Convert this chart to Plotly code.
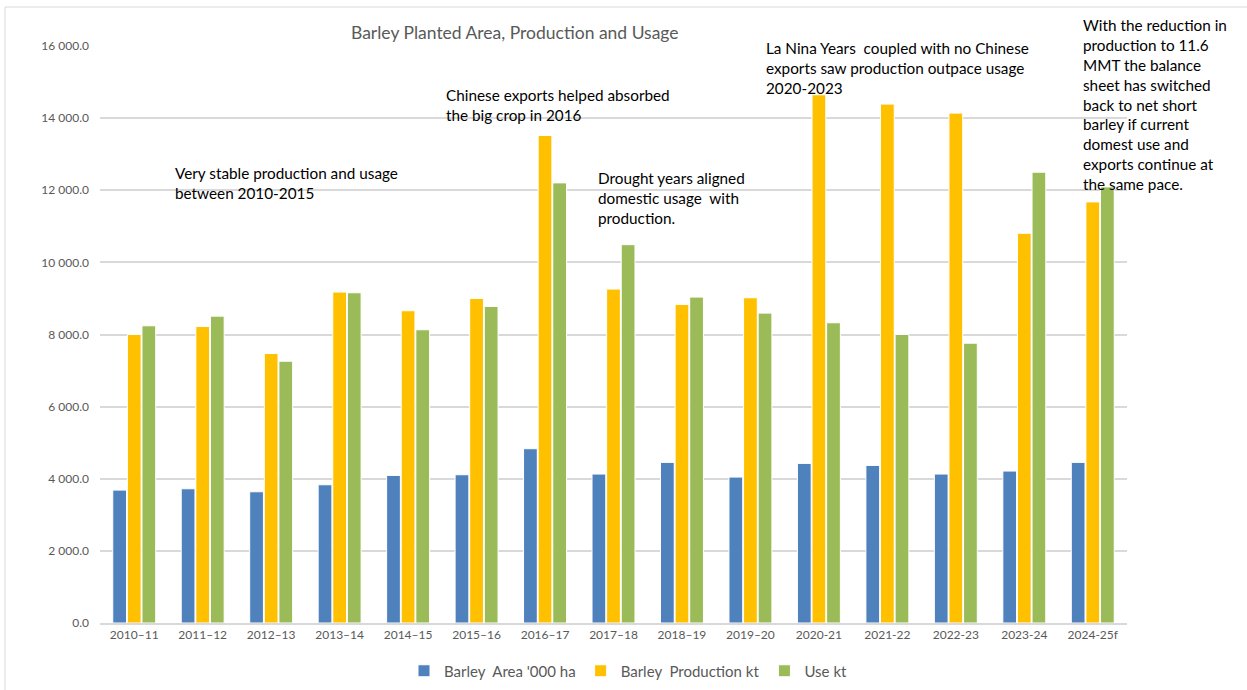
import plotly.graph_objects as go

categories = ["2010–11", "2011–12", "2012–13", "2013–14", "2014–15", "2015–16", "2016–17",
              "2017–18", "2018–19", "2019–20", "2020-21", "2021-22", "2022-23", "2023-24", "2024-25f"]
area_kha = [3685, 3722, 3639, 3833, 4093, 4111, 4833, 4130, 4454, 4046, 4426, 4370, 4130, 4213, 4454]
production_kt = [8000, 8222, 7472, 9176, 8659, 9000, 13520, 9260, 8833, 9019, 14648, 14389, 14139, 10806, 11677]
use_kt = [8241, 8509, 7259, 9157, 8131, 8778, 12204, 10491, 9037, 8593, 8325, 8000, 7759, 12500, 12093]

series_names = ["Barley\u00a0 Area '000 ha", "Barley\u00a0 Production kt", "Use kt"]
colors = ["#4F81BD", "#FFC000", "#9BBB59"]

title_text = "Barley Planted Area, Production and Usage"
notes = [
    "Very stable production and usage<br>between 2010-2015",
    "Chinese exports helped absorbed<br>the big crop in 2016",
    "Drought years aligned<br>domestic usage\u00a0 with<br>production.",
    "La Nina Years\u00a0 coupled with no Chinese<br>exports saw production outpace usage<br>2020-2023",
    "With the reduction in<br>production to 11.6<br>MMT the balance<br>sheet has switched<br>back to net short<br>barley if current<br>domest use and<br>exports continue at<br>the same pace.",
]

W, H = 1247, 690
L, R, T, B = 100, 120, 46, 67
PW, PH = W - L - R, H - T - B

def px_x(p):
    return (p - L) / PW

def px_y(p):
    return (H - B - p) / PH

FONT = "Lato"

fig = go.Figure()
for name, vals, c in zip(series_names, [area_kha, production_kt, use_kt], colors):
    fig.add_trace(go.Bar(x=categories, y=vals, name=name,
                         marker=dict(color=c, line=dict(color="white", width=1))))

note_pos = [(173, 162), (444, 84), (596, 167), (764, 37), (1081, 14)]
for txt, (x, y) in zip(notes, note_pos):
    fig.add_annotation(text=txt, x=px_x(x), y=px_y(y), xref="paper", yref="paper",
                       xanchor="left", yanchor="top", align="left", showarrow=False,
                       font=dict(family=FONT, size=15.3, color="#000000"))

fig.add_annotation(text=title_text, x=px_x(514.5), y=px_y(33), xref="paper", yref="paper",
                   xanchor="center", yanchor="middle", showarrow=False,
                   font=dict(family=FONT, size=17.5, color="#595959"))

fig.add_shape(type="rect", xref="paper", yref="paper",
              x0=px_x(5), x1=px_x(1260), y0=px_y(7), y1=px_y(700),
              line=dict(color="#D9D9D9", width=1), fillcolor="rgba(0,0,0,0)", layer="below")

fig.update_layout(
    width=W, height=H,
    margin=dict(l=L, r=R, t=T, b=B, autoexpand=False),
    paper_bgcolor="white", plot_bgcolor="white",
    separators=". ",
    barmode="group", bargap=0.36, bargroupgap=0.06,
    font=dict(family=FONT, color="#595959"),
    legend=dict(orientation="h", x=px_x(628), xanchor="center", y=px_y(671), yanchor="middle",
                font=dict(family=FONT, size=15, color="#595959"), itemwidth=30),
    xaxis=dict(showgrid=False, showline=True, linecolor="#D9D9D9", linewidth=1.5,
               tickfont=dict(family=FONT, size=12, color="#595959"), ticks=""),
    yaxis=dict(range=[0, 16000], tickvals=[0, 2000, 4000, 6000, 8000, 10000, 12000, 14000, 16000],
               tickformat=",.1f", showgrid=True, gridcolor="#D9D9D9", gridwidth=1.5,
               zeroline=False, showline=False, ticklabelstandoff=10,
               tickfont=dict(family=FONT, size=12, color="#595959")),
)

fig.write_html("out.html")
